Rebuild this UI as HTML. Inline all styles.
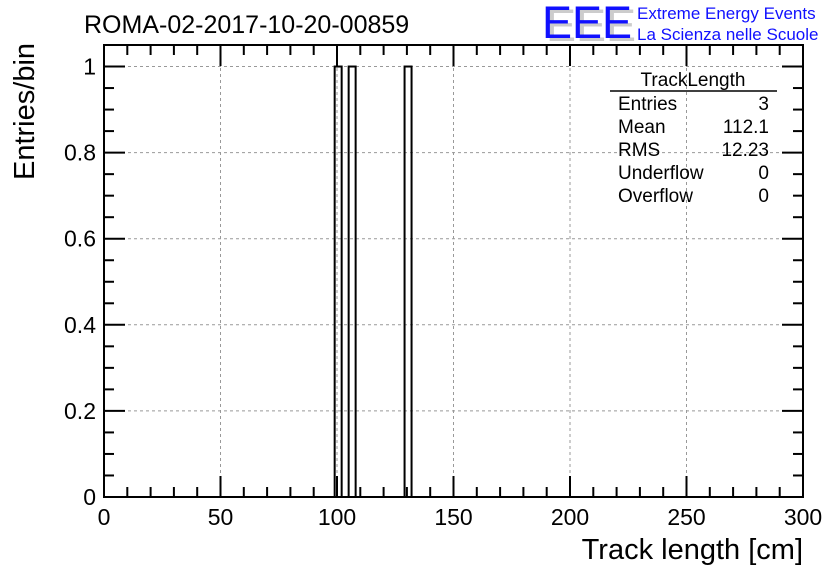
<!DOCTYPE html>
<html><head><meta charset="utf-8"><style>
body{margin:0;background:#fff;}
svg{display:block;font-family:"Liberation Sans",sans-serif;}
</style></head><body>
<svg id="c" width="836" height="572" viewBox="0 0 836 572">
<text x="84" y="33" font-size="25">ROMA-02-2017-10-20-00859</text>
<g>
<text x="546" y="41" font-size="45" fill="#ccc">EEE</text>
<text x="542" y="38" font-size="45" fill="#1010ff">EEE</text>
<text x="637" y="19" font-size="17" fill="#1010ff">Extreme Energy Events</text>
<text x="637" y="40" font-size="17" fill="#1010ff">La Scienza nelle Scuole</text>
</g>
<g id="grid"></g>
<g id="bars"></g>
<g id="axes"></g>
<g font-size="19">
<text x="693" y="86" text-anchor="middle">TrackLength</text>
<line x1="610" y1="91" x2="777" y2="91" stroke="#000" stroke-width="1.5"/>
<text x="618" y="110">Entries</text><text x="769" y="110" text-anchor="end">3</text>
<text x="618" y="133">Mean</text><text x="769" y="133" text-anchor="end">112.1</text>
<text x="618" y="156">RMS</text><text x="769" y="156" text-anchor="end">12.23</text>
<text x="618" y="179">Underflow</text><text x="769" y="179" text-anchor="end">0</text>
<text x="618" y="202">Overflow</text><text x="769" y="202" text-anchor="end">0</text>
</g>
<text x="803" y="559" font-size="29" text-anchor="end">Track length [cm]</text>
<text transform="translate(34,180) rotate(-90)" font-size="29">Entries/bin</text>
</svg>
<script>
const binLows=[99,105,129];
const binCounts=[1,1,1];
const binWidth=3;
const xTicks=[0,50,100,150,200,250,300];
const yTicks=[0,0.2,0.4,0.6,0.8,1];
const yTickLabels=["0","0.2","0.4","0.6","0.8","1"];
const X0=104,X1=803,Y0=497,Y1=45,xMin=0,xMax=300,yMin=0,yMax=1.05;
const sx=v=>X0+(v-xMin)/(xMax-xMin)*(X1-X0);
const sy=v=>Y0-(v-yMin)/(yMax-yMin)*(Y0-Y1);
const NS="http://www.w3.org/2000/svg";
function mk(t,a,p){const e=document.createElementNS(NS,t);for(const k in a)e.setAttribute(k,a[k]);p.appendChild(e);return e;}
const grid=document.getElementById('grid'),bars=document.getElementById('bars'),axes=document.getElementById('axes');
xTicks.forEach(v=>{if(v>xMin&&v<xMax){const l=mk('line',{x1:sx(v),x2:sx(v),y1:Y0,y2:Y1,stroke:'#999','stroke-dasharray':'3,3'},grid);

}});
yTicks.forEach(v=>{if(v>yMin){const l=mk('line',{x1:X0,x2:X1,y1:sy(v),y2:sy(v),stroke:'#999','stroke-dasharray':'3,3'},grid);

}});
binLows.forEach((b,i)=>{const r=mk('rect',{x:sx(b),y:sy(binCounts[i]),width:sx(b+binWidth)-sx(b),height:sy(0)-sy(binCounts[i]),fill:'none',stroke:'#000','stroke-width':2},bars);

});
mk('rect',{x:X0,y:Y1,width:X1-X0,height:Y0-Y1,fill:'none',stroke:'#000','stroke-width':2},axes);
for(let v=xMin;v<=xMax;v+=10){const maj=v%50===0,h=maj?21:10;
mk('line',{x1:sx(v),x2:sx(v),y1:Y0,y2:Y0-h,stroke:'#000','stroke-width':2},axes);
mk('line',{x1:sx(v),x2:sx(v),y1:Y1,y2:Y1+h,stroke:'#000','stroke-width':2},axes);}
for(let k=0;k<=21;k++){const v=k*0.05,maj=k%4===0,h=maj?21:10;
mk('line',{x1:X0,x2:X0+h,y1:sy(v),y2:sy(v),stroke:'#000','stroke-width':2},axes);
mk('line',{x1:X1,x2:X1-h,y1:sy(v),y2:sy(v),stroke:'#000','stroke-width':2},axes);}
xTicks.forEach(v=>{const t=mk('text',{x:sx(v),y:Y0+28,'font-size':23,'text-anchor':'middle'},axes);t.textContent=v;

});
yTicks.forEach((v,i)=>{const t=mk('text',{x:X0-8,y:sy(v)+8,'font-size':23,'text-anchor':'end'},axes);t.textContent=yTickLabels[i];

});
</script>
</body></html>
